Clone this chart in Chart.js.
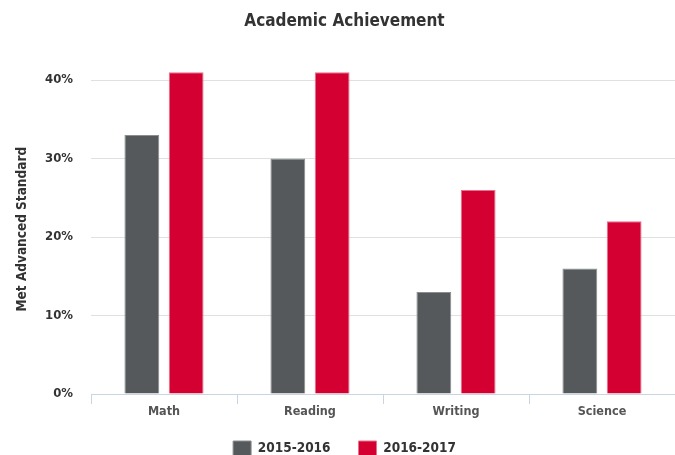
<!DOCTYPE html>
<html>
<head>
<meta charset="utf-8">
<script src="https://cdn.jsdelivr.net/npm/chart.js@4"></script>
<style>
  html, body { margin: 0; padding: 0; background: #fff; overflow: hidden; }
  #wrap { width: 675px; height: 472px; position: relative; }
</style>
</head>
<body>
<div id="wrap"><canvas id="chart"></canvas></div>
<script>
// Chart data
const subjects = ['Math', 'Reading', 'Writing', 'Science'];
const year2016 = [33, 30, 13, 16];   // 2015-2016
const year2017 = [41, 41, 26, 22];   // 2016-2017
const seriesLabels = ['2015-2016', '2016-2017'];
const yTicks = [0, 10, 20, 30, 40];

const FONT = "'DejaVu Sans Condensed', 'Liberation Sans Narrow', sans-serif";
const GRAY = '#55595b';
const RED = '#d40032';

// legend keeps wide horizontal gaps but sits closer to the axis
const legendNudge = {
    id: 'legendNudge',
    afterLayout(chart) {
        chart.legend.top -= 6;
        chart.legend.bottom -= 6;
    }
};

new Chart(document.getElementById('chart').getContext('2d'), {
    type: 'bar',
    data: {
        labels: subjects,
        datasets: [
            {label: seriesLabels[0], data: year2016, backgroundColor: GRAY, borderColor: '#8a8e90', borderWidth: 1},
            {label: seriesLabels[1], data: year2017, backgroundColor: RED, borderColor: '#e7708c', borderWidth: 1}
        ]
    },
    plugins: [legendNudge],
    options: {
        responsive: true,
        maintainAspectRatio: false,
        animation: false,
        layout: {padding: {left: 14, right: 0, top: 9, bottom: 0}},
        datasets: {bar: {categoryPercentage: 0.607, barPercentage: 0.786}},
        plugins: {
            title: {
                display: true,
                text: 'Academic Achievement',
                color: '#333',
                font: {family: FONT, size: 17, weight: 'bold'},
                padding: {top: 2, bottom: 33}
            },
            legend: {
                position: 'bottom',
                labels: {
                    color: '#333',
                    font: {family: FONT, size: 13.5, weight: 'bold'},
                    boxWidth: 18,
                    boxHeight: 15,
                    padding: 28
                }
            },
            tooltip: {enabled: false}
        },
        scales: {
            x: {
                grid: {display: true, drawOnChartArea: false, drawTicks: true, tickLength: 10, color: '#c9d5e0', offset: true},
                border: {display: true, color: '#c9d5e0', width: 1},
                ticks: {color: '#555', font: {family: FONT, size: 12.5, weight: 'bold'}, padding: 0}
            },
            y: {
                min: 0,
                max: 42,
                afterBuildTicks: axis => { axis.ticks = yTicks.map(v => ({value: v})); },
                afterFit: axis => { axis.width = 77; },
                grid: {color: '#e0e0e0', drawTicks: false},
                border: {display: false},
                ticks: {
                    color: '#333',
                    font: {family: FONT, size: 13, weight: 'bold'},
                    padding: 18,
                    callback: v => v + '%'
                },
                title: {
                    display: true,
                    text: 'Met Advanced Standard',
                    color: '#333',
                    font: {family: FONT, size: 13.5, weight: 'bold'},
                    padding: 0
                }
            }
        }
    }
});
</script>
</body>
</html>
